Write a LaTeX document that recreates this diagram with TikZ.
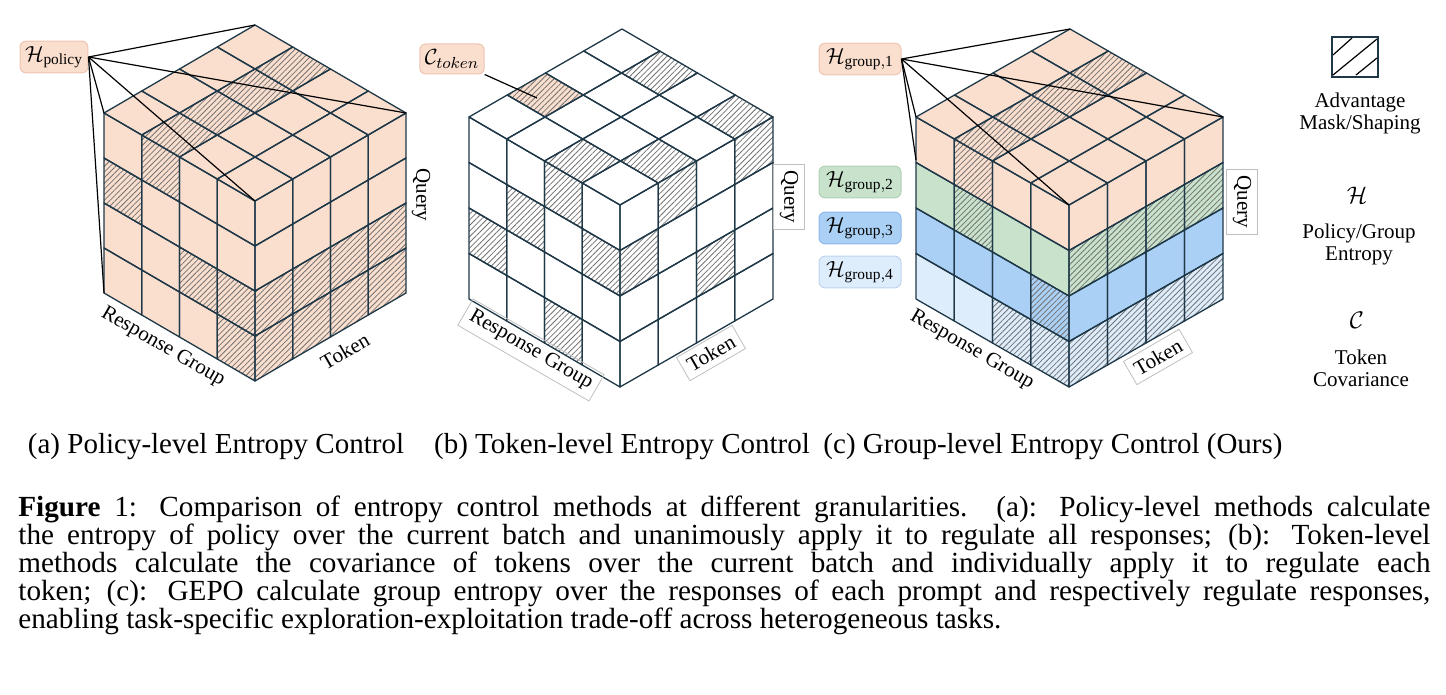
\documentclass[tikz,border=0pt]{standalone}
\usepackage{fontspec}
\setmainfont{Liberation Serif}
\usetikzlibrary{patterns.meta}
\definecolor{pch}{RGB}{250,222,206}
\definecolor{pchd}{RGB}{238,196,176}
\definecolor{grn}{RGB}{200,226,204}
\definecolor{grnd}{RGB}{176,208,182}
\definecolor{blu}{RGB}{170,208,245}
\definecolor{blud}{RGB}{140,184,230}
\definecolor{lbl}{RGB}{222,237,252}
\definecolor{lbld}{RGB}{190,212,238}
\definecolor{edge}{RGB}{30,56,72}
\colorlet{L0}{pch}\colorlet{L1}{grn}\colorlet{L2}{blu}\colorlet{L3}{lbl}
\newcommand\cubeset[7]{\def\Fx{#1}\def\Fy{#2}\def\Lx{#3}\def\Ly{#4}\def\Rx{#5}\def\Ry{#6}\def\Hh{#7}}
\newcommand\TC[3]{\path[#3] ({\Fx+(#1)*(\Lx)/4+(#2)*(\Rx)/4},{\Fy+(#1)*(\Ly)/4+(#2)*(\Ry)/4}) -- ++({(\Lx)/4},{(\Ly)/4}) -- ++({(\Rx)/4},{(\Ry)/4}) -- ++({-(\Lx)/4},{-(\Ly)/4}) -- cycle;}
\newcommand\LC[3]{\path[#3] ({\Fx+(#1)*(\Lx)/4},{\Fy+(#1)*(\Ly)/4+(#2)*(\Hh)/4}) -- ++({(\Lx)/4},{(\Ly)/4}) -- ++(0,{(\Hh)/4}) -- ++({-(\Lx)/4},{-(\Ly)/4}) -- cycle;}
\newcommand\RC[3]{\path[#3] ({\Fx+(#1)*(\Rx)/4},{\Fy+(#1)*(\Ry)/4+(#2)*(\Hh)/4}) -- ++({(\Rx)/4},{(\Ry)/4}) -- ++(0,{(\Hh)/4}) -- ++({-(\Rx)/4},{-(\Ry)/4}) -- cycle;}
\newcommand\gridall{\foreach \i in {0,...,3}{\foreach \j in {0,...,3}{\TC{\i}{\j}{grid}\LC{\i}{\j}{grid}\RC{\i}{\j}{grid}}}}
\tikzset{
 grid/.style={draw=edge,line width=0.65pt,line join=round},
 hatch/.style={pattern={Lines[angle=45,distance=2pt,line width=0.4pt]},pattern color=black!55},
 lab/.style={font=\fontsize{10.5}{12}\selectfont,inner sep=2pt},
 axbox/.style={lab,draw=black!25,line width=0.4pt,inner sep=3pt},
 hbox/.style={rounded corners=3pt,line width=0.5pt,inner sep=2.5pt,font=\fontsize{11}{12}\selectfont,minimum height=15pt},
 conn/.style={line width=0.6pt,black},
 subcap/.style={font=\fontsize{14.5}{16}\selectfont}
}
\begin{document}
\begin{tikzpicture}[x=0.5pt,y=-0.5pt]
\useasboundingbox (0,0) rectangle (1446,695);
% ---------- cube (a)
\cubeset{255}{201}{-151}{-88}{151}{-88}{180}
\foreach \i in {0,...,3}{\foreach \j in {0,...,3}{\TC{\i}{\j}{fill=pch}\LC{\i}{\j}{fill=pch}\RC{\i}{\j}{fill=pch}}}
\foreach \j in {0,...,3}{\TC{2}{\j}{hatch}}
\foreach \a/\d in {3/1,2/0,1/2,0/2,0/3}{\LC{\a}{\d}{hatch}}
\foreach \b in {0,...,3}{\RC{\b}{2}{hatch}\RC{\b}{3}{hatch}}
\gridall
\coordinate (aF) at (255,201); \coordinate (aL) at (104,113); \coordinate (aR) at (406,113);
\coordinate (aB) at (255,25); \coordinate (aBL) at (104,293);
\node[hbox,fill=pch,draw=pchd] (hp) at (54,57) {$\mathcal{H}_{\mathrm{policy}}$};
\foreach \t in {aB,aR,aF,aL,aBL}{\draw[conn] (hp.east) -- (\t);}
\node[lab,rotate=-90] (qa) at (421,195) {Query};
\node[lab,rotate=-30] (rga) at (163,347) {Response Group};
\node[lab,rotate=30] (ta) at (345,351) {Token};
\node[subcap] (ca) at (216,447) {(a) Policy-level Entropy Control};
% ---------- cube (b)
\cubeset{620}{205}{-151}{-88}{153}{-88}{182}
\foreach \i in {0,...,3}{\foreach \j in {0,...,3}{\TC{\i}{\j}{fill=white}\LC{\i}{\j}{fill=white}\RC{\i}{\j}{fill=white}}}
\TC{3}{1}{fill=pch}
\foreach \a/\b in {3/1,2/3,0/3,1/0,0/1}{\TC{\a}{\b}{hatch}}
\foreach \a/\d in {1/0,2/1,3/2,0/1,1/3}{\LC{\a}{\d}{hatch}}
\foreach \b/\d in {0/1,1/0,2/2,3/0}{\RC{\b}{\d}{hatch}}
\gridall
\node[hbox,fill=pch,draw=pchd] (ct) at (452,59) {$\mathcal{C}_{token}$};
\coordinate (ctc) at (537,98);
\draw[conn] (ct.south east) -- (ctc);
\node[axbox,rotate=-90] (qb) at (789,197) {Query};
\node[axbox,rotate=-30] (rgb) at (531,350) {Response Group};
\node[axbox,rotate=30] (tb) at (711,353) {Token};
\node[subcap] (cb) at (622,447) {(b) Token-level Entropy Control};
% ---------- cube (c)
\cubeset{1069}{205}{-153}{-88}{154}{-88}{182}
\foreach \i in {0,...,3}{\foreach \j in {0,...,3}{\TC{\i}{\j}{fill=pch}\LC{\i}{\j}{fill=L\j}\RC{\i}{\j}{fill=L\j}}}
\foreach \j in {0,...,3}{\TC{2}{\j}{hatch}}
\foreach \a/\d in {2/0,2/1,0/2,0/3,1/3}{\LC{\a}{\d}{hatch}}
\foreach \b in {0,...,3}{\RC{\b}{1}{hatch}\RC{\b}{3}{hatch}}
\gridall
\coordinate (cF) at (1069,205); \coordinate (cL) at (916,117); \coordinate (cR) at (1223,117);
\coordinate (cB) at (1070,29); \coordinate (cL1) at (916,160);
\node[hbox,fill=pch,draw=pchd,minimum width=41pt] (hg1) at (860,59) {$\mathcal{H}_{\mathrm{group,1}}$};
\node[hbox,fill=grn,draw=grnd,minimum width=41pt] (hg2) at (860,182) {$\mathcal{H}_{\mathrm{group,2}}$};
\node[hbox,fill=blu,draw=blud,minimum width=41pt] (hg3) at (860,228) {$\mathcal{H}_{\mathrm{group,3}}$};
\node[hbox,fill=lbl,draw=lbld,minimum width=41pt] (hg4) at (860,272) {$\mathcal{H}_{\mathrm{group,4}}$};
\foreach \t in {cB,cR,cF,cL,cL1}{\draw[conn] (hg1.east) -- (\t);}
\node[axbox,rotate=-90] (qc) at (1242,202) {Query};
\node[lab,rotate=-30] (rgc) at (972,350) {Response Group};
\node[axbox,rotate=30] (tc) at (1158,357) {Token};
\node[subcap] (cc) at (1053,447) {(c) Group-level Entropy Control (Ours)};
% ---------- legend
\node[draw=edge,line width=0.7pt,minimum width=23pt,minimum height=20pt,inner sep=0pt] (lg) at (1355,57) {};
\draw[conn] (1333,55) -- (1352,38) (1333,75) -- (1377,39) (1356,75) -- (1377,58);
\node[lab,align=center] (lgt) at (1360,113) {Advantage\\[-1pt]Mask/Shaping};
\node[lab] (lh) at (1357,195) {\large$\mathcal{H}$};
\node[lab,align=center] (lht) at (1359,244) {Policy/Group\\[-1pt]Entropy};
\node[lab] (lc) at (1357,320) {\large$\mathcal{C}$};
\node[lab,align=center] (lct) at (1361,368) {Token\\[-1pt]Covariance};
% ---------- caption
\node[anchor=north west,inner sep=0pt,text width=706pt,align=justify,font=\fontsize{14.6}{14}\selectfont] (capt) at (18,496) {\textbf{Figure} 1: Comparison of entropy control methods at different granularities. (a): Policy-level methods calculate\linebreak the entropy of policy over the current batch and unanimously apply it to regulate all responses; (b): Token-level\linebreak methods calculate the covariance of tokens over the current batch and individually apply it to regulate each\linebreak token; (c): GEPO calculate group entropy over the responses of each prompt and respectively regulate responses,\linebreak enabling task-specific exploration-exploitation trade-off across heterogeneous tasks.};
\end{tikzpicture}
\end{document}
